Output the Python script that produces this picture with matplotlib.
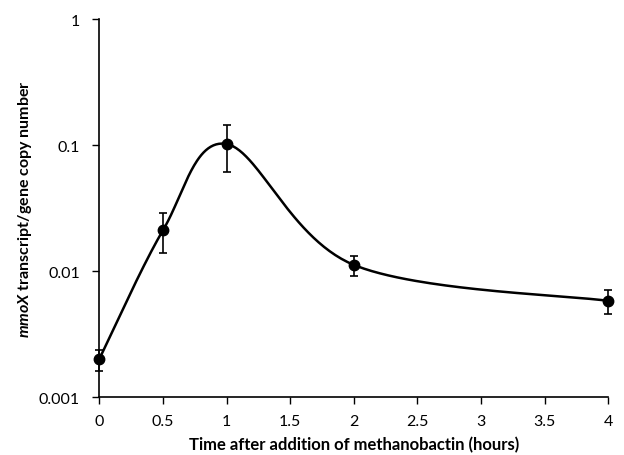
import numpy as np
import matplotlib.pyplot as plt
from matplotlib.ticker import FixedLocator, NullLocator

plt.rcParams['font.family'] = ['Lato', 'DejaVu Sans']
plt.rcParams['mathtext.fontset'] = 'custom'
plt.rcParams['mathtext.bfit'] = 'Lato:italic:bold'

hours = [0, 0.5, 1, 2, 4]
copies = [0.002, 0.021, 0.102, 0.0112, 0.0058]
err_up = [0.00036, 0.0079, 0.043, 0.002, 0.0013]
err_down = [0.0004, 0.0071, 0.041, 0.0021, 0.0012]

x_ticks = [0, 0.5, 1, 1.5, 2, 2.5, 3, 3.5, 4]
y_ticks = [0.001, 0.01, 0.1, 1]
y_labels = ['0.001', '0.01', '0.1', '1']


def smooth_curve(xs, ys, n=60):
    # Excel-style smoothed line: Catmull-Rom bezier in (x, log y)
    pts = np.column_stack([xs, np.log10(ys)])
    out = []
    for i in range(len(pts) - 1):
        p0 = pts[max(i - 1, 0)]
        p1 = pts[i]
        p2 = pts[i + 1]
        p3 = pts[min(i + 2, len(pts) - 1)]
        c1 = p1 + (p2 - p0) / 6
        c2 = p2 - (p3 - p1) / 6
        t = np.linspace(0, 1, n)[:, None]
        seg = ((1 - t) ** 3 * p1 + 3 * (1 - t) ** 2 * t * c1
               + 3 * (1 - t) * t ** 2 * c2 + t ** 3 * p2)
        out.append(seg)
    out = np.vstack(out)
    return out[:, 0], 10 ** out[:, 1]


fig = plt.figure(figsize=(6.24, 4.56), dpi=100)
ax = fig.add_axes([0.159, 0.127, 0.816, 0.829])

sx, sy = smooth_curve(hours, copies)
ax.plot(sx, sy, color='black', lw=1.8, zorder=2)
ax.errorbar(hours, copies, yerr=[err_down, err_up], fmt='o', color='black',
            ms=7.5, elinewidth=1.2, capsize=3, capthick=1.2, zorder=3,
            clip_on=False)

ax.set_yscale('log')
ax.set_xlim(0, 4)
ax.set_ylim(0.001, 1)
ax.xaxis.set_major_locator(FixedLocator(x_ticks))
ax.set_xticklabels([f'{v:g}' for v in x_ticks])
ax.yaxis.set_major_locator(FixedLocator(y_ticks))
ax.yaxis.set_minor_locator(NullLocator())
ax.set_yticklabels(y_labels)
ax.tick_params(axis='both', direction='out', length=5, width=1,
               labelsize=11.5)
ax.tick_params(axis='x', pad=7)
ax.tick_params(axis='y', pad=9)

for side in ['top', 'right']:
    ax.spines[side].set_visible(False)
for side in ['left', 'bottom']:
    ax.spines[side].set_linewidth(1.2)

ax.set_xlabel('Time after addition of methanobactin (hours)',
              fontsize=12, fontweight='bold', labelpad=6)
ax.set_ylabel(r'$\mathbfit{mmoX}$ transcript/gene copy number',
              fontsize=11.5, fontweight='bold', labelpad=3)

plt.savefig('out.png', dpi=100)
